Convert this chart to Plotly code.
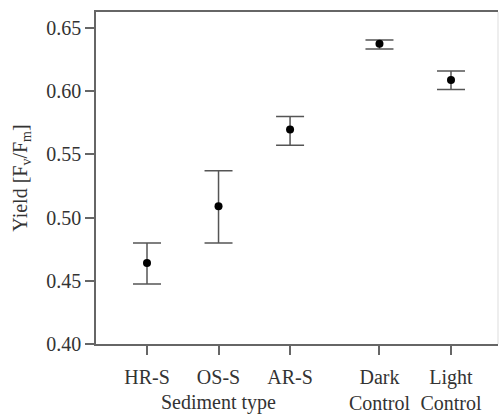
import plotly.graph_objects as go

categories = ["HR-S", "OS-S", "AR-S", "Dark<br>Control", "Light<br>Control"]
x_pos = [1, 2, 3, 4.25, 5.25]
means = [0.464, 0.509, 0.5697, 0.6376, 0.6088]
upper = [0.480, 0.537, 0.580, 0.6405, 0.616]
lower = [0.4474, 0.480, 0.5573, 0.6334, 0.6014]

err_plus = [u - m for u, m in zip(upper, means)]
err_minus = [m - l for m, l in zip(means, lower)]

font = "'Liberation Serif', 'Times New Roman', serif"
axcol = "#666666"
txtcol = "#333333"

fig = go.Figure()
fig.add_trace(go.Scatter(
    x=x_pos, y=means, mode="markers",
    marker=dict(color="black", size=8),
    error_y=dict(type="data", symmetric=False, array=err_plus, arrayminus=err_minus,
                 color="#555555", thickness=1.5, width=14),
    showlegend=False,
))

fig.add_annotation(x=2, xref="x", y=0, yref="paper", yanchor="middle", yshift=-58,
                   text="Sediment type", showarrow=False,
                   font=dict(family=font, size=20, color=txtcol))

fig.add_shape(type="line", xref="paper", yref="paper", x0=1, x1=1, y0=0, y1=1,
              line=dict(color="#dddddd", width=1))

fig.update_layout(
    width=502, height=414,
    margin=dict(l=96, r=4, t=12, b=70),
    paper_bgcolor="white", plot_bgcolor="white",
    font=dict(family=font, size=20, color=txtcol),
    xaxis=dict(range=[0.287, 5.907], tickmode="array", tickvals=x_pos, ticktext=categories,
               showgrid=False, zeroline=False, showline=True, linecolor=axcol, linewidth=1.5,
               mirror=True, ticks="outside", ticklen=9, tickcolor=axcol, tickwidth=1.5,
               ticklabelstandoff=5, automargin=False,
               tickfont=dict(family=font, size=20)),
    yaxis=dict(range=[0.40, 0.6627], tickvals=[0.40, 0.45, 0.50, 0.55, 0.60, 0.65],
               tickformat=".2f", automargin=False,
               showgrid=False, zeroline=False, showline=True, linecolor=axcol, linewidth=1.5,
               ticks="outside", ticklen=9, tickcolor=axcol, tickwidth=1.5,
               tickfont=dict(family=font, size=20),
               title=dict(text="Yield [F<sub>v</sub>/F<sub>m</sub>]", standoff=13,
                          font=dict(family=font, size=20))),
)

fig.write_html("out.html")
